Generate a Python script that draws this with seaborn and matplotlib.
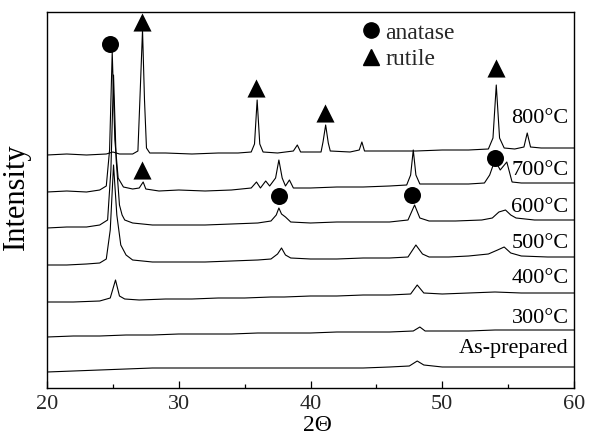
import matplotlib
matplotlib.use("Agg")
import matplotlib.pyplot as plt
import seaborn as sns
import pandas as pd
from matplotlib.lines import Line2D
from matplotlib.ticker import MultipleLocator

# ---- data (2-theta in degrees, intensity in arbitrary units) ----
tt_800 = [20.0, 21.5, 23.0, 24.5, 25.0, 25.5, 26.5, 26.9, 27.05, 27.25, 27.4, 27.55, 27.8, 29.0, 31.0, 33.0,
          34.5, 35.5, 35.75, 35.95, 36.15, 36.4, 37.5, 38.7, 39.0, 39.25, 40.8, 40.95, 41.15, 41.35, 41.5,
          43.0, 43.7, 43.9, 44.1, 46.0, 48.0, 50.0, 52.0, 53.5, 53.85, 54.1, 54.35, 54.7, 55.5, 56.2, 56.45,
          56.7, 57.5, 59.0, 60.0]
in_800 = [245, 246, 245, 246, 248, 246, 246, 249, 300, 370, 300, 252, 247, 247, 246, 247,
          247, 248, 256, 300, 256, 248, 247, 249, 255, 248, 248, 258, 275, 257, 249,
          248, 250, 258, 249, 249, 249, 250, 250, 251, 262, 315, 262, 252, 251, 253, 267,
          253, 252, 252, 252]

tt_700 = [20.0, 21.5, 23.0, 24.0, 24.5, 24.75, 24.95, 25.15, 25.4, 25.8, 26.5, 27.0, 27.3, 27.5, 28.5, 30.0,
          32.0, 34.0, 35.5, 35.9, 36.2, 36.6, 36.9, 37.35, 37.6, 37.85, 38.1, 38.4, 38.7, 40.0, 42.0, 44.0,
          46.0, 47.3, 47.6, 47.8, 48.0, 48.3, 50.0, 52.0, 53.2, 53.6, 54.0, 54.4, 54.9, 55.3, 56.0, 58.0, 60.0]
in_700 = [208, 209, 208, 210, 214, 250, 348, 260, 222, 213, 211, 212, 218, 211, 209, 210,
          209, 210, 212, 218, 212, 219, 214, 222, 240, 222, 214, 220, 212, 212, 213, 213,
          214, 215, 225, 250, 225, 216, 216, 216, 217, 225, 240, 230, 238, 218, 217, 217, 217]

tt_600 = [20.0, 21.5, 23.0, 24.0, 24.6, 24.85, 25.05, 25.25, 25.5, 25.7, 25.9, 26.5, 28.0, 30.0, 32.0, 34.0,
          36.0, 37.0, 37.4, 37.6, 37.8, 38.1, 38.5, 40.0, 42.0, 44.0, 46.0, 47.4, 47.9, 48.3, 49.0, 51.0,
          53.0, 53.8, 54.3, 54.8, 55.2, 55.6, 57.0, 58.5, 60.0]
in_600 = [172, 173, 173, 175, 180, 230, 325, 240, 195, 185, 180, 177, 175, 175, 175, 176,
          177, 179, 185, 192, 186, 183, 178, 177, 178, 178, 178, 180, 195, 182, 179, 179,
          180, 182, 188, 190, 185, 182, 180, 180, 180]

tt_500 = [20.0, 21.5, 23.0, 24.0, 24.5, 24.8, 25.05, 25.3, 25.6, 26.0, 26.5, 28.0, 30.0, 32.0, 34.0, 36.0,
          37.0, 37.5, 37.8, 38.1, 38.5, 40.0, 42.0, 44.0, 46.0, 47.4, 48.0, 48.5, 49.0, 50.5, 52.0, 53.5,
          54.2, 54.7, 55.2, 56.0, 58.0, 60.0]
in_500 = [135, 135, 136, 137, 141, 170, 235, 185, 155, 145, 140, 138, 138, 138, 139, 140,
          141, 146, 152, 145, 142, 141, 141, 142, 142, 143, 155, 146, 143, 143, 144, 146,
          150, 153, 147, 144, 143, 143]

tt_400 = [20.0, 22.0, 24.0, 24.8, 25.2, 25.5, 25.9, 27.0, 29.0, 31.0, 33.0, 35.0, 37.0, 38.0, 40.0, 42.0,
          44.0, 46.0, 47.6, 48.1, 48.6, 50.0, 52.0, 54.0, 56.0, 58.0, 60.0]
in_400 = [98, 98, 99, 102, 120, 104, 101, 100, 101, 101, 102, 102, 103, 103, 104, 104,
          105, 105, 106, 115, 107, 106, 107, 108, 107, 107, 107]

tt_300 = [20.0, 22.0, 24.0, 26.0, 28.0, 30.0, 32.0, 34.0, 36.0, 38.0, 40.0, 42.0, 44.0, 46.0, 47.8, 48.3,
          48.7, 50.0, 52.0, 54.0, 56.0, 58.0, 60.0]
in_300 = [63, 64, 64, 65, 65, 66, 66, 66, 67, 67, 67, 68, 68, 68, 69, 73,
          69, 69, 69, 70, 70, 70, 70]

tt_asp = [20.0, 22.0, 24.0, 26.0, 28.0, 30.0, 32.0, 34.0, 36.0, 38.0, 40.0, 42.0, 44.0, 46.0, 47.5, 48.1,
          48.6, 50.0, 52.0, 54.0, 56.0, 58.0, 60.0]
in_asp = [28, 29, 30, 31, 32, 32, 32, 32, 32, 32, 32, 32, 32, 33, 34, 39,
          35, 33, 33, 33, 33, 33, 33]

sample_names = ["As-prepared", "300°C", "400°C", "500°C", "600°C", "700°C", "800°C"]
label_heights = [42, 72, 112, 147, 183, 220, 272]

anatase_tt = [24.8, 37.6, 47.7, 54.0]
anatase_in = [356, 204, 205, 242]
rutile_tt = [27.2, 27.2, 35.9, 41.1, 54.1]
rutile_in = [378, 230, 312, 287, 332]

# ---- build long table ----
frames = []
for name, tt, inten in zip(sample_names,
                           [tt_asp, tt_300, tt_400, tt_500, tt_600, tt_700, tt_800],
                           [in_asp, in_300, in_400, in_500, in_600, in_700, in_800]):
    frames.append(pd.DataFrame({"two_theta": tt, "intensity": inten, "sample": name}))
df = pd.concat(frames, ignore_index=True)

sns.set_theme(style="white")
plt.rcParams["font.family"] = ["Liberation Serif", "DejaVu Serif"]

fig = plt.figure(figsize=(5.92, 4.40), dpi=100)
ax = fig.add_axes([47 / 592, 1 - 388 / 440, 527 / 592, 376 / 440])

sns.lineplot(data=df, x="two_theta", y="intensity", hue="sample", estimator=None, sort=True,
             palette=["black"] * len(sample_names), linewidth=0.8, legend=False, ax=ax)

sns.scatterplot(x=anatase_tt, y=anatase_in, marker="o", s=150, color="black", edgecolor="black",
                linewidth=0, ax=ax, zorder=5)
sns.scatterplot(x=rutile_tt, y=rutile_in, marker="^", s=170, color="black", edgecolor="black",
                linewidth=0, ax=ax, zorder=5)

for name, h in zip(sample_names, label_heights):
    ax.text(59.6, h, name, ha="right", va="bottom", fontsize=16, color="black")

ax.set_xlim(20, 60)
ax.set_ylim(12, 388)
ax.xaxis.set_major_locator(MultipleLocator(10))
ax.xaxis.set_minor_locator(MultipleLocator(5))
ax.tick_params(axis="x", which="both", direction="in", bottom=True, top=False, labelsize=16,
               pad=5, color="black")
ax.tick_params(axis="x", which="major", length=5, width=0.9)
ax.tick_params(axis="x", which="minor", length=3, width=0.9)
ax.set_yticks([])
for sp in ax.spines.values():
    sp.set_color("black")
    sp.set_linewidth(1.0)

ax.set_xlabel("2Θ", fontsize=17, color="black")
ax.set_ylabel("Intensity", fontsize=22, color="black")
ax.xaxis.set_label_coords(0.514, -0.072)
ax.yaxis.set_label_coords(-0.03, 0.51)

handles = [Line2D([], [], marker="o", linestyle="none", color="black", markersize=11),
           Line2D([], [], marker="^", linestyle="none", color="black", markersize=12)]
ax.legend(handles, ["anatase", "rutile"], loc="upper left", bbox_to_anchor=(364 / 592, 1 - 22 / 440),
          bbox_transform=fig.transFigure, frameon=False, fontsize=17, handlelength=0.6,
          handletextpad=0.3, labelspacing=0.2, borderpad=0, borderaxespad=0)

fig.savefig("out.png", dpi=100)
